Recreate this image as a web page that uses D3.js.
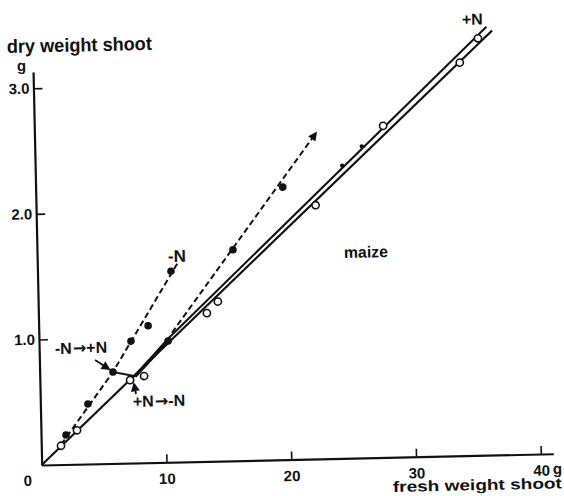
<!DOCTYPE html>
<html>
<head>
<meta charset="utf-8">
<script src="https://cdn.jsdelivr.net/npm/d3@7"></script>
<style>
  body { margin: 0; background: #fff; }
  svg text { font-family: "Liberation Sans", Arial, sans-serif; font-weight: bold; fill: #111; }
  svg tspan.arr { font-family: "DejaVu Sans", sans-serif; }
</style>
</head>
<body>
<svg id="chart" width="564" height="496"></svg>
<script>
// +N plants, open circles (fresh weight g, dry weight g)
var plusNFresh = [1.58, 2.89, 7.23, 8.36, 13.5, 14.4, 22.4, 27.95, 34.2, 35.7];
var plusNDry   = [0.15, 0.27, 0.66, 0.69, 1.18, 1.27, 2.02, 2.64, 3.13, 3.32];

// -N plants, filled circles
var minusNFresh = [2.0, 3.81, 5.87, 7.37, 8.77, 10.7];
var minusNDry   = [0.235, 0.478, 0.728, 0.97, 1.09, 1.52];

// +N -> -N after transfer, filled
var toMinusFresh = [10.34, 15.7, 19.8];
var toMinusDry   = [0.965, 1.68, 2.17];

// -N -> +N after transfer, small dots
var toPlusFresh = [24.6, 26.2];
var toPlusDry   = [2.33, 2.48];

// drawn lines, [fresh, dry]
var plusNLine   = [[0, 0], [36.85, 3.38]];
var minusNLine  = [[1.6, 0.16], [5.87, 0.728], [11.28, 1.59]];
var toPlusLine  = [[5.87, 0.728], [7.64, 0.69], [10.34, 0.983], [36.4, 3.41]];
var toPlusThick = [[7.64, 0.69], [10.34, 0.97]];
var toMinusLine = [[7.23, 0.66], [10.34, 0.965]];
var toMinusDash = [[10.67, 1.03], [22.56, 2.595]];
var arrowA = [[4.46, 0.826], [5.56, 0.752]];
var arrowB = [[7.68, 0.549], [7.54, 0.629]];

var xTicks = [10, 20, 30, 40];
var yTicks = [1, 2, 3];

var ink = '#111',
    tilt = -1.26,
    origin = {x: 41.7, y: 465};

var svg = d3.select('#chart');

var defs = svg.append('defs');
defs.append('marker')
    .attr('id', 'head')
    .attr('viewBox', '0 0 10 10')
    .attr('refX', 8).attr('refY', 5)
    .attr('markerWidth', 10).attr('markerHeight', 9)
    .attr('markerUnits', 'userSpaceOnUse')
    .attr('orient', 'auto')
  .append('path')
    .attr('d', 'M0,0L10,5L0,10z')
    .attr('fill', ink);

var x = d3.scaleLinear().domain([0, 41]).range([0, 41 * 12.48]);
var y = d3.scaleLinear().domain([0, 3.13]).range([0, -3.13 * 125.6]);

var g = svg.append('g')
    .attr('transform', 'translate(' + origin.x + ',' + origin.y + ') rotate(' + tilt + ')');

//------------------------------------------------------------
// axes

var xAxis = d3.axisBottom(x)
    .tickValues(xTicks)
    .tickSize(-8)
    .tickSizeOuter(0)
    .tickPadding(11)
    .tickFormat(d3.format('d'));

var yAxis = d3.axisLeft(y)
    .tickValues(yTicks)
    .tickSize(-9)
    .tickSizeOuter(0)
    .tickPadding(4)
    .tickFormat(d3.format('.1f'));

var gx = g.append('g').call(xAxis);
var gy = g.append('g').call(yAxis);

[gx, gy].forEach(function (a) {
  a.attr('font-size', null).attr('font-family', null);
  a.select('.domain').attr('stroke', ink).attr('stroke-width', 2.2);
  a.selectAll('.tick line').attr('stroke', ink).attr('stroke-width', 1.6);
  a.selectAll('.tick text').style('font-size', '15px').attr('fill', ink);
});

//------------------------------------------------------------
// lines

var line = d3.line()
    .x(function (d) { return x(d[0]); })
    .y(function (d) { return y(d[1]); });

function drawLine(data, width, dash, marker) {
  var p = g.append('path')
      .datum(data)
      .attr('d', line)
      .attr('fill', 'none')
      .attr('stroke', ink)
      .attr('stroke-width', width);
  if (dash) { p.attr('stroke-dasharray', dash); }
  if (marker) { p.attr('marker-end', 'url(#head)'); }
  return p;
}

drawLine(plusNLine, 2.2);
drawLine(toPlusLine, 2);
drawLine(toPlusThick, 3.5);
drawLine(toMinusLine, 2);
drawLine(minusNLine, 2, '6,3.5');
drawLine(toMinusDash, 2, '6,3.5', true);
drawLine(arrowA, 1.8, null, true);
drawLine(arrowB, 1.8, null, true);

//------------------------------------------------------------
// points

function drawPoints(xs, ys, r, open) {
  g.append('g').selectAll('circle')
      .data(xs)
    .enter().append('circle')
      .attr('cx', function (d) { return x(d); })
      .attr('cy', function (d, i) { return y(ys[i]); })
      .attr('r', r)
      .attr('fill', open ? '#fff' : ink)
      .attr('stroke', ink)
      .attr('stroke-width', open ? 1.6 : 0);
}

drawPoints(minusNFresh, minusNDry, 3.8, false);
drawPoints(toMinusFresh, toMinusDry, 3.8, false);
drawPoints(toPlusFresh, toPlusDry, 2.2, false);
drawPoints(plusNFresh, plusNDry, 3.6, true);

//------------------------------------------------------------
// labels (page coordinates, tilted like the scan)

function label(parts, px, py, size, anchor) {
  var t = svg.append('text')
      .attr('transform', 'translate(' + px + ',' + py + ') rotate(' + tilt + ')')
      .attr('text-anchor', anchor || 'start')
      .style('font-size', size + 'px');
  [].concat(parts).forEach(function (s) {
    var isArrow = s === '\u2192';
    t.append('tspan')
        .attr('class', isArrow ? 'arr' : null)
        .attr('dx', isArrow ? 1 : null)
        .text(s);
  });
  return t;
}

function fit(t, len) {
  return t.attr('textLength', len).attr('lengthAdjust', 'spacingAndGlyphs');
}

fit(label('dry weight shoot', 7, 53, 19), 145);
label('g', 17, 71, 15);
label('0', 28, 486, 15, 'middle');
label('g', 553, 474, 15);
fit(label('fresh weight shoot', 393, 492, 15), 169);
fit(label('maize', 344, 258, 16), 44);
label('-N', 168, 262, 17);
label('+N', 462, 25, 16);
label(['-N', '\u2192', '+N'], 55, 354, 16);
label(['+N', '\u2192', '-N'], 133, 407, 16);
</script>
</body>
</html>
